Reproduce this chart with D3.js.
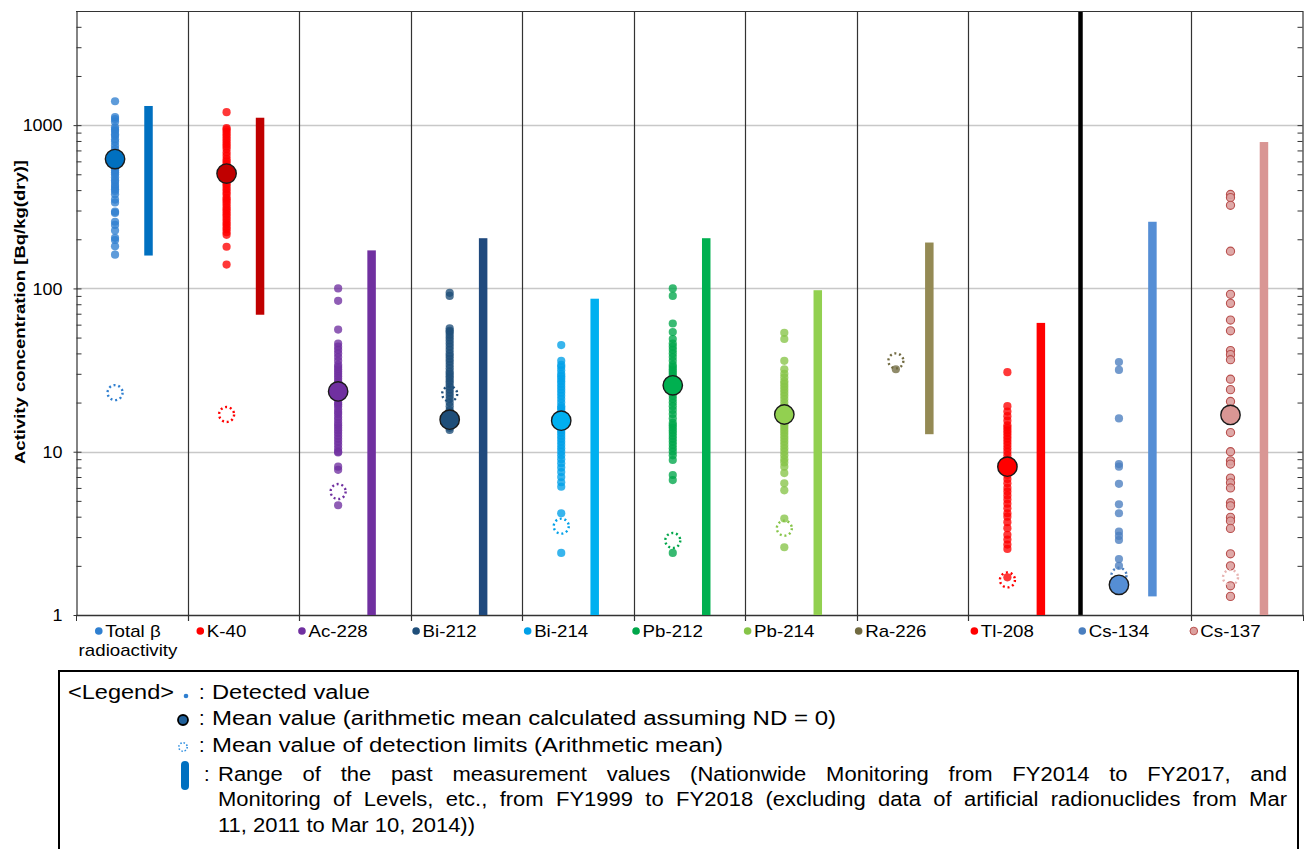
<!DOCTYPE html>
<html>
<head>
<meta charset="utf-8">
<script src="https://cdn.jsdelivr.net/npm/d3@7.9.0/dist/d3.min.js"></script>
<style>
  body { margin: 0; background: #fff; }
  svg { display: block; }
  text { font-family: "Liberation Sans", Arial, sans-serif; fill: #000; }
</style>
</head>
<body>
<svg width="1305" height="849"></svg>
<script>
// categories and their label lines
const categories = ["Total β radioactivity", "K-40", "Ac-228", "Bi-212", "Bi-214", "Pb-212", "Pb-214", "Ra-226", "Tl-208", "Cs-134", "Cs-137"];
const categoryLabels = [["Total β", "radioactivity"], ["K-40"], ["Ac-228"], ["Bi-212"], ["Bi-214"], ["Pb-212"], ["Pb-214"], ["Ra-226"], ["Tl-208"], ["Cs-134"], ["Cs-137"]];

// detected values (Bq/kg dry)
const totalBetaValues = [1400, 1120, 1090, 1050, 970, 940, 920, 880, 860, 820, 790, 750, 713, 680, 645, 620, 590, 570, 550, 530, 515, 500, 480, 460, 448, 430, 418, 405, 395, 377, 350, 336, 295, 290, 256, 245, 226, 204, 198, 181, 161];
const k40Values = [1200, 960, 940, 910, 880, 850, 820, 790, 765, 740, 713, 680, 650, 620, 600, 580, 560, 540, 520, 500, 480, 465, 450, 435, 420, 405, 390, 377, 360, 350, 340, 328, 315, 305, 295, 285, 275, 265, 255, 247, 238, 230, 221, 213, 180, 140];
const ac228Values = [100, 84, 56, 46, 44, 42, 40, 38, 36, 34, 33, 32, 31, 30, 29, 28, 27, 26, 25, 24, 23, 22, 21, 20, 19.5, 19, 18.2, 17.5, 17, 16.3, 15.7, 15, 14.5, 14, 13.5, 13, 12.5, 12, 11.5, 11, 10.5, 10, 9.9, 8.1, 7.75, 4.7];
const bi212Values = [94, 90, 57, 55, 54, 52, 50, 48, 46, 44, 42, 40, 38.5, 37, 35.5, 34, 32.5, 31, 30, 29, 28, 27, 26, 25, 24, 23, 22, 21, 20, 19, 18, 17.5, 17, 16.4, 15.5, 15, 14.5, 14, 13.6];
const bi214Values = [45, 36, 34, 33, 31.5, 30, 29, 28, 27, 26, 25, 24, 23, 22, 21, 20, 19, 18.5, 18, 17, 16.5, 16, 15, 14.5, 14, 13.5, 13, 12.5, 12, 11.5, 11, 10.5, 10, 9.5, 9, 8.5, 8, 7.5, 7, 6.5, 6.1, 4.2, 2.4];
const pb212Values = [100, 90, 61, 54, 49, 46, 44, 42, 40, 38, 36, 34, 33, 32, 31, 30, 29, 28, 27, 26, 25, 24, 23, 22, 21, 20, 19, 18, 17, 16, 15, 14.5, 14, 13.5, 13, 12.5, 12, 11.5, 11, 10.5, 10, 9.5, 8.9, 7.2, 6.7, 2.4];
const pb214Values = [53.5, 49, 36, 32, 30, 28.5, 27, 26, 25, 24, 23, 22, 21, 20, 19, 18, 17, 16, 15, 14.5, 14, 13.5, 13, 12.5, 12, 11.5, 11, 10.5, 10, 9.5, 9, 8.6, 8.1, 7.4, 6.4, 5.8, 3.9, 2.6];
const ra226Values = [32];
const tl208Values = [30.7, 19, 17.6, 16.5, 15.5, 14.5, 14, 13.5, 13, 12.5, 12, 11.5, 11, 10.5, 10, 9.5, 9, 8.5, 8, 7.6, 7.2, 6.8, 6.4, 6, 5.7, 5.4, 5.1, 4.8, 4.5, 4.2, 4, 3.7, 3.4, 3.1, 2.9, 2.7, 2.54, 1.7];
const cs134Values = [35.4, 31.7, 16, 8.4, 8.1, 6.36, 4.76, 4.2, 3.24, 3.05, 2.88, 2.2, 2.0];
const cs137Values = [376, 360, 323, 169, 92, 81, 64, 55, 41.6, 39.3, 36.6, 27.8, 24, 20.3, 13.1, 10, 8.8, 8.4, 6.9, 6.45, 6.0, 4.87, 4.66, 3.96, 3.76, 3.39, 2.37, 2.0, 1.51, 1.3];

// means, detection-limit means and past ranges, one per category
const meanValues = [620, 505, 23.4, 15.7, 15.5, 25.5, 16.9, null, 8.1, 1.53, 16.8];
const detectionLimitMeans = [23, 16.9, 5.7, 22.6, 3.5, 2.86, 3.4, 36, 1.64, 1.75, 1.7];
const rangeLow = [159, 69, 1, 1, 1, 1, 1, 12.8, 1, 1.3, 1];
const rangeHigh = [1310, 1110, 171, 203, 86.5, 203, 97.5, 191, 61.5, 256, 788];

const yTicks = [1, 10, 100, 1000];

const detected = [totalBetaValues, k40Values, ac228Values, bi212Values, bi214Values, pb212Values, pb214Values, ra226Values, tl208Values, cs134Values, cs137Values];

// colours
const dotColors = ["#2f7fd0", "#ff0000", "#7030a0", "#1f4e79", "#00a0e8", "#00a64a", "#86c448", "#716a40", "#ff0000", "#4a7ebf", "#dca09e"];
const meanColors = ["#0070c0", "#c00000", "#7030a0", "#1f4e79", "#00b0f0", "#00b050", "#92d050", "#948a54", "#ff0000", "#558ed5", "#d99694"];
const barColors = ["#0070c0", "#c00000", "#7030a0", "#1f497d", "#00b0f0", "#00b050", "#92d050", "#948a54", "#ff0000", "#558ed5", "#d99694"];

const plot = { left: 76, right: 1303, top: 11, bottom: 615 };
const svg = d3.select("svg");

const y = d3.scaleLog().domain([1, 5000]).range([plot.bottom, plot.top]);
const x = d3.scaleBand().domain(categories).range([plot.left, plot.right]);
const bw = x.bandwidth();
const dotX = c => x(c) + bw * 0.35;
const barX = c => x(c) + bw * 0.65;

// stretch a text horizontally to a given factor
function stretch(sel, factor) {
  sel.each(function () {
    const w = this.getComputedTextLength();
    d3.select(this).attr("textLength", w * factor).attr("lengthAdjust", "spacingAndGlyphs");
  });
}

// gridlines
svg.append("g").selectAll("line").data(yTicks.slice(1)).join("line")
  .attr("x1", plot.left).attr("x2", plot.right)
  .attr("y1", d => Math.round(y(d)) + 0.5).attr("y2", d => Math.round(y(d)) + 0.5)
  .attr("stroke", "#c8c8c8").attr("stroke-width", 1.3);

// column separators
const seps = svg.append("g");
categories.slice(1).forEach(c => {
  const thick = c === "Cs-134";
  seps.append("line")
    .attr("x1", Math.round(x(c)) + 0.5).attr("x2", Math.round(x(c)) + 0.5)
    .attr("y1", plot.top).attr("y2", thick ? plot.bottom : plot.bottom + 6)
    .attr("stroke", thick ? "#000" : "#333").attr("stroke-width", thick ? 4.5 : 1.2);
});

// frame and axes
const minorTicks = y.ticks().filter(t => t <= 5000);
const leftAx = svg.append("g").attr("transform", `translate(${plot.left + 0.5},0)`)
  .call(d3.axisRight(y).tickValues(minorTicks).tickSize(5).tickFormat(""));
const rightAx = svg.append("g").attr("transform", `translate(${plot.right - 0.5},0)`)
  .call(d3.axisLeft(y).tickValues(minorTicks).tickSize(5).tickFormat(""));
[leftAx, rightAx].forEach(g => {
  g.select(".domain").attr("stroke", "#333").attr("stroke-width", 1.2);
  g.selectAll(".tick line").attr("stroke", "#333");
});
const labelAx = svg.append("g").attr("transform", `translate(${plot.left + 0.5},0)`)
  .call(d3.axisLeft(y).tickValues(yTicks).tickSize(3).tickPadding(11).tickFormat(d3.format("d")));
labelAx.select(".domain").remove();
labelAx.selectAll(".tick line").attr("stroke", "#333");
labelAx.selectAll("text").attr("font-size", 16).attr("font-family", "Liberation Sans, Arial, sans-serif").attr("fill", "#000")
  .attr("dy", "0.36em").call(stretch, 1.12);

svg.append("line").attr("x1", plot.left).attr("x2", plot.right)
  .attr("y1", plot.top + 0.5).attr("y2", plot.top + 0.5).attr("stroke", "#333").attr("stroke-width", 1.2);
svg.append("line").attr("x1", plot.left).attr("x2", plot.right)
  .attr("y1", plot.bottom + 0.5).attr("y2", plot.bottom + 0.5).attr("stroke", "#333").attr("stroke-width", 1.4);
svg.append("g").selectAll("line").data([plot.left, plot.right]).join("line")
  .attr("x1", d => d + 0.5).attr("x2", d => d + 0.5).attr("y1", plot.bottom).attr("y2", plot.bottom + 6)
  .attr("stroke", "#333");

// y title
svg.append("text")
  .attr("transform", `translate(25,${(160 + 464) / 2}) rotate(-90)`)
  .attr("text-anchor", "middle").attr("font-weight", "bold").attr("font-size", 15)
  .text("Activity concentration  [Bq/kg(dry)]")
  .attr("textLength", 304).attr("lengthAdjust", "spacingAndGlyphs");

// ranges of past values
svg.append("g").selectAll("rect").data(categories).join("rect")
  .attr("x", c => barX(c) - 4.25).attr("width", 8.5)
  .attr("y", (c, i) => y(rangeHigh[i]))
  .attr("height", (c, i) => y(rangeLow[i]) - y(rangeHigh[i]))
  .attr("fill", (c, i) => barColors[i]);

// detected values
const dotG = svg.append("g");
categories.forEach((c, i) => {
  dotG.selectAll(null).data(detected[i]).join("circle")
    .attr("cx", dotX(c)).attr("cy", d => y(d)).attr("r", 4.1)
    .attr("fill", dotColors[i]).attr("fill-opacity", c === "Cs-137" ? 0.9 : 0.78)
    .attr("stroke", c === "Cs-137" ? "#b9504e" : "none").attr("stroke-width", 1.1);
});

// mean of detection limits
svg.append("g").selectAll("circle").data(categories).join("circle")
  .attr("cx", c => dotX(c)).attr("cy", (c, i) => y(detectionLimitMeans[i])).attr("r", 7.5)
  .attr("fill", "none").attr("stroke", (c, i) => c === "Cs-137" ? "#e8b4b2" : dotColors[i])
  .attr("stroke-width", 2.4).attr("stroke-dasharray", "2 2.8");

// means
svg.append("g").selectAll("circle").data(categories.filter((c, i) => meanValues[i] != null)).join("circle")
  .attr("cx", c => dotX(c)).attr("cy", c => y(meanValues[categories.indexOf(c)])).attr("r", 9.7)
  .attr("fill", c => meanColors[categories.indexOf(c)])
  .attr("stroke", "#1a1a1a").attr("stroke-width", 1.4);

// category labels
const labG = svg.append("g");
categories.forEach((c, i) => {
  const lines = categoryLabels[i];
  const center = lines.length > 1 ? x(c) + 52 : x(c) + 34;
  lines.forEach((line, k) => {
    const base = 637 + k * 19;
    const t = labG.append("text").attr("font-size", 17).attr("y", base).text(line);
    t.call(stretch, 1.1);
    const w = +t.attr("textLength");
    if (k === 0) {
      const total = 10 + w;
      const start = center - total / 2;
      labG.append("circle").attr("cx", start + 3.5).attr("cy", base - 6).attr("r", 3.8)
        .attr("fill", dotColors[i]).attr("stroke", c === "Cs-137" ? "#b9504e" : "none");
      t.attr("x", start + 10);
    } else {
      t.attr("x", center - w / 2);
    }
  });
});

// legend box
const lg = svg.append("g");
lg.append("rect").attr("x", 59).attr("y", 671).attr("width", 1239).attr("height", 200)
  .attr("fill", "none").attr("stroke", "#000").attr("stroke-width", 2);

const legendFont = 20;
const legendRows = [
  { y: 699, text: "Detected value", x0: 212, x1: 370 },
  { y: 725, text: "Mean value (arithmetic mean calculated assuming ND = 0)", x0: 212, x1: 836 },
  { y: 752, text: "Mean value of detection limits (Arithmetic mean)", x0: 212, x1: 723 },
  { y: 781, text: "Range of the past measurement values (Nationwide Monitoring from FY2014 to FY2017, and", x0: 218, x1: 1287, justify: true },
  { y: 806, text: "Monitoring of Levels, etc., from FY1999 to FY2018 (excluding data of artificial radionuclides from Mar", x0: 218, x1: 1287, justify: true },
  { y: 832, text: "11, 2011 to Mar 10, 2014))", x0: 218, x1: 475 }
];

lg.append("text").attr("x", 68).attr("y", 699).attr("font-size", legendFont).text("<Legend>")
  .attr("textLength", 106).attr("lengthAdjust", "spacingAndGlyphs");
[699, 725, 752].forEach(yy => lg.append("text").attr("x", 199).attr("y", yy).attr("font-size", legendFont).text(":"));
lg.append("text").attr("x", 204).attr("y", 781).attr("font-size", legendFont).text(":");

legendRows.forEach(r => {
  if (!r.justify) {
    lg.append("text").attr("x", r.x0).attr("y", r.y).attr("font-size", legendFont).text(r.text)
      .attr("textLength", r.x1 - r.x0).attr("lengthAdjust", "spacingAndGlyphs");
  } else {
    const words = r.text.split(" ");
    const nodes = words.map(wd => {
      const t = lg.append("text").attr("y", r.y).attr("font-size", legendFont).text(wd);
      t.call(stretch, 1.1);
      return t;
    });
    const widths = nodes.map(t => +t.attr("textLength"));
    const gap = (r.x1 - r.x0 - d3.sum(widths)) / (words.length - 1);
    let cx = r.x0;
    nodes.forEach((t, k) => { t.attr("x", cx); cx += widths[k] + gap; });
  }
});

// legend symbols
lg.append("circle").attr("cx", 186).attr("cy", 696).attr("r", 2.3).attr("fill", "#2f7fd0");
lg.append("circle").attr("cx", 183).attr("cy", 720).attr("r", 5).attr("fill", "#1f5f99").attr("stroke", "#000").attr("stroke-width", 1.8);
lg.append("circle").attr("cx", 183).attr("cy", 747).attr("r", 4.2).attr("fill", "none")
  .attr("stroke", "#2f8fe0").attr("stroke-width", 1.6).attr("stroke-dasharray", "1.5 1.8");
lg.append("rect").attr("x", 181).attr("y", 761).attr("width", 8).attr("height", 29).attr("rx", 4).attr("fill", "#0070c0");
</script>
</body>
</html>
